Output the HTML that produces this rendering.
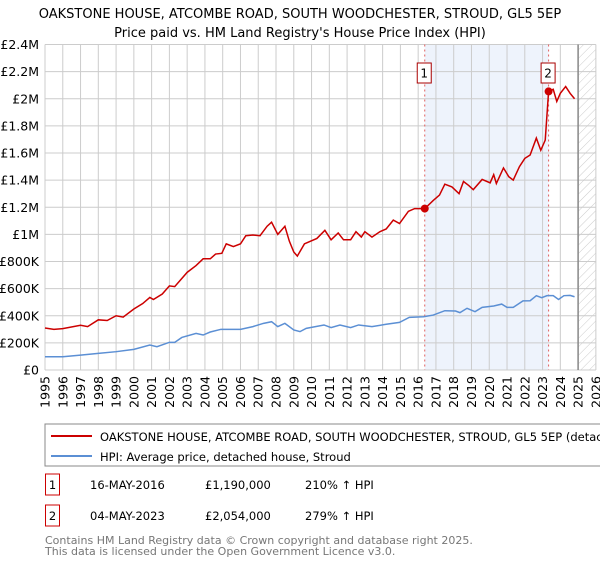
<!DOCTYPE html>
<html><head><meta charset="utf-8"><style>
body{margin:0;background:#fff;font-family:"Liberation Sans","DejaVu Sans",sans-serif;}
svg text{font-family:"DejaVu Sans","Liberation Sans",sans-serif;}
</style></head><body>
<svg id="c" width="600" height="560" viewBox="0 0 600 560" xmlns="http://www.w3.org/2000/svg">
<defs><pattern id="hatch" width="6" height="6" patternUnits="userSpaceOnUse" patternTransform="rotate(45)"><line x1="0" y1="0" x2="0" y2="6" stroke="#ccc" stroke-width="1"/></pattern></defs>
<text x="300" y="18" text-anchor="middle" font-size="13">OAKSTONE HOUSE, ATCOMBE ROAD, SOUTH WOODCHESTER, STROUD, GL5 5EP</text>
<text x="300" y="37" text-anchor="middle" font-size="13">Price paid vs. HM Land Registry's House Price Index (HPI)</text>
<g id="plot"></g>
<rect x="45" y="424" width="570" height="42" fill="#fff" stroke="#888"/>
<line x1="51" y1="436" x2="92" y2="436" stroke="#cc0000" stroke-width="2"/>
<text x="100" y="441" font-size="11.5">OAKSTONE HOUSE, ATCOMBE ROAD, SOUTH WOODCHESTER, STROUD, GL5 5EP (detached house)</text>
<line x1="51" y1="456" x2="92" y2="456" stroke="#5b8fd4" stroke-width="2"/>
<text x="100" y="461" font-size="11.5">HPI: Average price, detached house, Stroud</text>
<g font-size="11.5">
<rect x="45.5" y="474" width="14" height="21" fill="#fff" stroke="#cc0000"/>
<text x="52.5" y="489" text-anchor="middle">1</text>
<text x="90" y="489">16-MAY-2016</text><text x="205" y="489">£1,190,000</text><text x="305" y="489">210% ↑ HPI</text></g>
<g font-size="11.5">
<rect x="45.5" y="505" width="14" height="21" fill="#fff" stroke="#cc0000"/>
<text x="52.5" y="520" text-anchor="middle">2</text>
<text x="90" y="520">04-MAY-2023</text><text x="205" y="520">£2,054,000</text><text x="305" y="520">279% ↑ HPI</text></g>
</svg>
<div style="position:absolute;left:45px;top:535px;font-size:11px;line-height:11px;color:#777;font-family:'DejaVu Sans',sans-serif;">Contains HM Land Registry data © Crown copyright and database right 2025.<br>This data is licensed under the Open Government Licence v3.0.</div>
<script>
const yTicks=[0,200000,400000,600000,800000,1000000,1200000,1400000,1600000,1800000,2000000,2200000,2400000];
const yTickLabels=["£0","£200K","£400K","£600K","£800K","£1M","£1.2M","£1.4M","£1.6M","£1.8M","£2M","£2.2M","£2.4M"];
const years=[1995,1996,1997,1998,1999,2000,2001,2002,2003,2004,2005,2006,2007,2008,2009,2010,2011,2012,2013,2014,2015,2016,2017,2018,2019,2020,2021,2022,2023,2024,2025,2026];
const propT=[1995,1995.5,1996,1997,1997.4,1998,1998.5,1999,1999.4,2000,2000.5,2000.9,2001.1,2001.6,2002,2002.3,2002.6,2003,2003.5,2003.9,2004.3,2004.6,2004.95,2005.2,2005.6,2006,2006.3,2006.7,2007.1,2007.5,2007.75,2008.1,2008.5,2008.75,2009.0,2009.2,2009.6,2010.3,2010.75,2011.1,2011.5,2011.8,2012.2,2012.5,2012.8,2013.0,2013.4,2013.85,2014.2,2014.6,2014.95,2015.45,2015.8,2016.37,2016.85,2017.2,2017.5,2017.9,2018.3,2018.55,2018.85,2019.1,2019.6,2020.05,2020.25,2020.4,2020.8,2021.1,2021.35,2021.7,2022.0,2022.3,2022.65,2022.9,2023.15,2023.34,2023.6,2023.8,2024.0,2024.3,2024.55,2024.8];
const propV=[0.31,0.30,0.305,0.33,0.32,0.37,0.365,0.40,0.39,0.45,0.49,0.535,0.52,0.56,0.62,0.615,0.66,0.72,0.77,0.82,0.82,0.855,0.86,0.93,0.91,0.93,0.99,0.995,0.99,1.06,1.09,1.0,1.06,0.95,0.87,0.84,0.93,0.97,1.03,0.96,1.01,0.96,0.96,1.02,0.98,1.02,0.98,1.02,1.04,1.105,1.08,1.17,1.19,1.19,1.25,1.29,1.37,1.35,1.30,1.39,1.36,1.33,1.405,1.38,1.44,1.375,1.49,1.425,1.40,1.50,1.56,1.585,1.71,1.62,1.695,2.054,2.07,1.98,2.04,2.09,2.04,2.00];
const hpiT=[1995,1996,1997,1998,1999,2000,2000.9,2001.3,2002,2002.3,2002.7,2003.5,2003.9,2004.3,2004.9,2005.3,2006,2006.7,2007.3,2007.75,2008.1,2008.5,2009.0,2009.35,2009.7,2010.7,2011.1,2011.6,2012.2,2012.65,2013.4,2014.2,2014.95,2015.5,2016.3,2016.85,2017.5,2018.1,2018.35,2018.75,2019.2,2019.6,2020.25,2020.7,2021.0,2021.35,2021.9,2022.3,2022.65,2022.95,2023.25,2023.6,2023.9,2024.2,2024.55,2024.8];
const hpiV=[0.098,0.098,0.11,0.123,0.135,0.152,0.184,0.172,0.204,0.204,0.24,0.27,0.258,0.28,0.30,0.30,0.30,0.32,0.344,0.356,0.32,0.344,0.295,0.283,0.307,0.332,0.313,0.332,0.313,0.332,0.32,0.337,0.351,0.388,0.393,0.405,0.437,0.435,0.423,0.455,0.43,0.462,0.472,0.486,0.462,0.462,0.51,0.511,0.548,0.533,0.548,0.548,0.52,0.548,0.55,0.54];
const sales=[{n:"1",t:2016.37,v:1.19},{n:"2",t:2023.34,v:2.054}];
const X0=45,PX=17.77,Y0=370,Y1=44.5;
const xs=t=>X0+(t-1995)*PX;
const ys=v=>Y0-(v/2400000)*(Y0-Y1);
const ym=v=>ys(v*1e6);
const NS="http://www.w3.org/2000/svg";
const g=document.getElementById('plot');
function mk(tag,at,parent){const e=document.createElementNS(NS,tag);for(const k in at)e.setAttribute(k,at[k]);(parent||g).appendChild(e);return e;}
const shade=mk('rect',{x:xs(sales[0].t),y:Y1,width:xs(sales[1].t)-xs(sales[0].t),height:Y0-Y1,fill:'#eef3fc'});


const hatch=mk('rect',{x:xs(2025),y:Y1,width:xs(2026)-xs(2025),height:Y0-Y1,fill:'url(#hatch)'});


yTicks.forEach((v,i)=>{
  const l=mk('line',{x1:X0,x2:xs(2026),y1:ys(v),y2:ys(v),stroke:'#ccc'});
  
  
  const t=mk('text',{x:39,y:ys(v)+4.5,'text-anchor':'end','font-size':'12.5'});
  
  
  t.textContent=yTickLabels[i];
});
years.forEach(y=>{
  const l=mk('line',{x1:xs(y),x2:xs(y),y1:Y1,y2:Y0,stroke:'#ccc'});
  
  
  const t=mk('text',{x:0,y:0,'text-anchor':'end','font-size':'12.5',transform:`translate(${xs(y)+4.5},376) rotate(-90)`});
  
  
  t.textContent=y;
});
const nowLine=mk('line',{x1:xs(2025),x2:xs(2025),y1:Y1,y2:Y0,stroke:'#888','stroke-width':1.5});


sales.forEach(s=>{
  const l=mk('line',{x1:xs(s.t),x2:xs(s.t),y1:Y1,y2:Y0,stroke:'#e06060','stroke-dasharray':'2,3'});
  
  
});
const hp=mk('polyline',{points:hpiT.map((t,i)=>xs(t)+','+ym(hpiV[i])).join(' '),fill:'none',stroke:'#5b8fd4','stroke-width':1.5});


const pp=mk('polyline',{points:propT.map((t,i)=>xs(t)+','+ym(propV[i])).join(' '),fill:'none',stroke:'#cc0000','stroke-width':1.5});


sales.forEach(s=>{
  const c=mk('circle',{cx:xs(s.t),cy:ym(s.v),r:4,fill:'#cc0000'});
  
  
  const b=mk('rect',{x:xs(s.t)-7.5,y:63,width:14,height:20,fill:'#fff',stroke:'#aa0000'});
  
  
  const t=mk('text',{x:xs(s.t)-0.5,y:77.5,'text-anchor':'middle','font-size':'12'});
  
  
  t.textContent=s.n;
});
</script>
</body></html>
